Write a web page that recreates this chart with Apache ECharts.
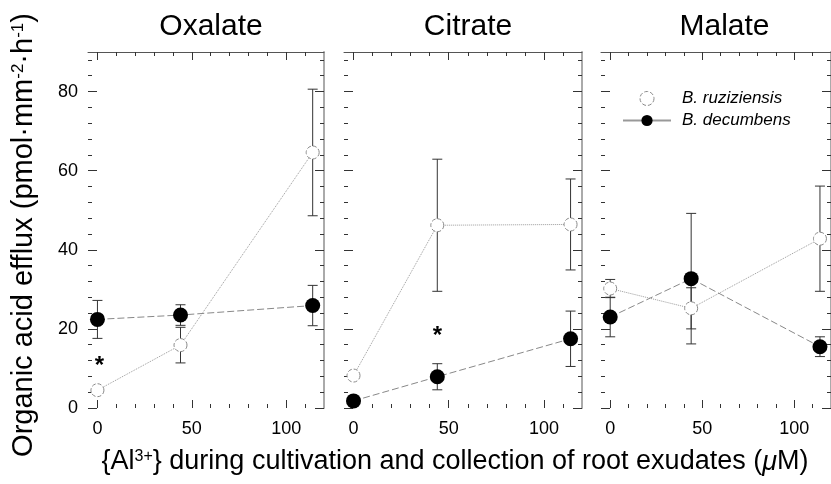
<!DOCTYPE html>
<html>
<head>
<meta charset="utf-8">
<script src="https://cdn.jsdelivr.net/npm/echarts@6/dist/echarts.min.js"></script>
<style>
html, body { margin: 0; background: #fff; }
#chart1 { width: 831px; height: 484px; }
</style>
</head>
<body>
<div id="chart1"></div>
<script>
var panels = ["Oxalate", "Citrate", "Malate"]
var doses = [0, 44, 114]

// B. ruziziensis (open circles)
var ruzOxalate = [4.5, 15.9, 64.6]
var ruzOxalateErr = [0, 4.5, 16]
var ruzCitrate = [8.2, 46.2, 46.4]
var ruzCitrateErr = [0, 16.7, 11.5]
var ruzMalate = [30.2, 25.2, 42.8]
var ruzMalateErr = [2.3, 5.2, 13.3]

// B. decumbens (filled circles)
var decOxalate = [22.4, 23.5, 25.9]
var decOxalateErr = [4.8, 2.6, 5.1]
var decCitrate = [1.8, 7.9, 17.5]
var decCitrateErr = [0, 3.3, 7]
var decMalate = [23.0, 32.7, 15.5]
var decMalateErr = [5, 16.5, 2.5]

// significance marks [panel, x, y]
var stars = [[0, 1, 12], [1, 44, 19.7]]

var xMajor = [0, 50, 100]
var xMinor = [10, 20, 30, 40, 60, 70, 80, 90, 110]
var yMajor = [0, 20, 40, 60, 80]
var yMinor = [4, 8, 12, 16, 24, 28, 32, 36, 44, 48, 52, 56, 64, 68, 72, 76, 84, 88]

var ruzData = [ruzOxalate, ruzCitrate, ruzMalate]
var ruzErr = [ruzOxalateErr, ruzCitrateErr, ruzMalateErr]
var decData = [decOxalate, decCitrate, decMalate]
var decErr = [decOxalateErr, decCitrateErr, decMalateErr]

var font = "Liberation Sans, Arial, sans-serif"
var gridLeft = [88, 344, 601]
var gridWidth = [236, 238, 237]

var chart = echarts.init(document.querySelector("#chart1"))

var grids = [], xAxes = [], yAxes = [], series = [], titles = []

function tickAxis(dim, gi, pos, ticks, len, labels, line) {
    return {
        type: "value",
        gridIndex: gi,
        position: pos,
        min: dim === "x" ? -5 : 0,
        max: dim === "x" ? 120 : 90,
        splitLine: { show: false },
        axisLine: line ? { show: true, onZero: false, lineStyle: line } : { show: false, onZero: false },
        axisTick: { show: true, inside: true, length: len, customValues: ticks, lineStyle: { color: "#333", width: 1 } },
        axisLabel: labels ? { show: true, customValues: labels, color: "#000", fontSize: 18, fontFamily: font, margin: dim === "x" ? 12 : 10 } : { show: false }
    }
}

panels.forEach(function (name, gi) {
    grids.push({ left: gridLeft[gi], width: gridWidth[gi], top: 52, height: 356 })
    titles.push({
        text: name, left: gridLeft[gi] + gridWidth[gi] / 2, top: 7, textAlign: "center",
        textStyle: { fontSize: 30, fontWeight: "normal", color: "#000", fontFamily: font }
    })
    xAxes.push(tickAxis("x", gi, "bottom", xMajor, 8, xMajor, null))
    xAxes.push(tickAxis("x", gi, "bottom", xMinor, 4, null, null))
    xAxes.push(tickAxis("x", gi, "top", xMajor, 8, null, { color: "#555", width: 1 }))
    xAxes.push(tickAxis("x", gi, "top", xMinor, 4, null, null))
    yAxes.push(tickAxis("y", gi, "left", yMajor, 9, gi === 0 ? yMajor : null, null))
    yAxes.push(tickAxis("y", gi, "left", yMinor, 4, null, null))
    yAxes.push(tickAxis("y", gi, "right", yMajor, 9, null, { color: "#aaa", width: 2 }))
    yAxes.push(tickAxis("y", gi, "right", yMinor, 4, null, null))

    var ai = gi * 4
    ;[[ruzData[gi], ruzErr[gi]], [decData[gi], decErr[gi]]].forEach(function (pair) {
        series.push({
            type: "custom",
            xAxisIndex: ai, yAxisIndex: ai, z: 1, silent: true,
            data: doses.map(function (d, k) { return [d, pair[0][k] - pair[1][k], pair[0][k] + pair[1][k]] }),
            renderItem: function (params, api) {
                var x = api.value(0)
                if (api.value(2) - api.value(1) <= 0) return null
                var lo = api.coord([x, api.value(1)])
                var hi = api.coord([x, api.value(2)])
                var st = { stroke: "#333", lineWidth: 1 }
                return {
                    type: "group",
                    children: [
                        { type: "line", shape: { x1: lo[0], y1: lo[1], x2: hi[0], y2: hi[1] }, style: st },
                        { type: "line", shape: { x1: lo[0] - 5, y1: lo[1], x2: lo[0] + 5, y2: lo[1] }, style: st },
                        { type: "line", shape: { x1: hi[0] - 5, y1: hi[1], x2: hi[0] + 5, y2: hi[1] }, style: st }
                    ]
                }
            }
        })
    })

    series.push({
        name: "B. ruziziensis",
        type: "line",
        xAxisIndex: ai, yAxisIndex: ai, z: 3,
        data: doses.map(function (d, k) { return [d, ruzData[gi][k]] }),
        symbol: "circle", symbolSize: 13,
        itemStyle: { color: "#fff", borderColor: "#888", borderWidth: 1, borderType: "dashed" },
        lineStyle: { color: "#999", width: 1, type: "dotted" }
    })
    series.push({
        name: "B. decumbens",
        type: "line",
        xAxisIndex: ai, yAxisIndex: ai, z: 3,
        data: doses.map(function (d, k) { return [d, decData[gi][k]] }),
        symbol: "circle", symbolSize: 15,
        itemStyle: { color: "#000" },
        lineStyle: { color: "#888", width: 1, type: [7, 3] }
    })
})

stars.forEach(function (s) {
    series.push({
        type: "custom",
        xAxisIndex: s[0] * 4, yAxisIndex: s[0] * 4, z: 4, silent: true,
        data: [[s[1], s[2]]],
        renderItem: function (params, api) {
            var p = api.coord([api.value(0), api.value(1)])
            return {
                type: "text", x: p[0], y: p[1] + 6,
                style: { text: "*", fontSize: 24, fontFamily: font, fontWeight: "bold", fill: "#000", align: "center", verticalAlign: "middle" }
            }
        }
    })
})

function richTitle(size) {
    return {
        s: { fontSize: Math.round(size * 0.6), lineHeight: Math.round(size * 0.6), fontFamily: font, fill: "#000", verticalAlign: "top", padding: [0, 0, Math.round(size * 0.75), 0] },
        i: { fontSize: size, lineHeight: size, fontFamily: font, fontStyle: "italic", fill: "#000" }
    }
}

var option = {
    animation: false,
    title: titles,
    grid: grids,
    xAxis: xAxes,
    yAxis: yAxes,
    legend: {
        orient: "vertical",
        left: 617, top: 85,
        itemWidth: 48, itemHeight: 14, itemGap: 5,
        textStyle: { fontSize: 17, fontStyle: "italic", color: "#000", fontFamily: font, padding: [0, 0, 0, 6] },
        data: [
            { name: "B. ruziziensis", icon: "circle", itemStyle: { color: "#fff", borderColor: "#888", borderWidth: 1, borderType: "dashed" } },
            { name: "B. decumbens", lineStyle: { type: "solid", color: "#999" } }
        ]
    },
    graphic: [
        {
            type: "text", x: 24, y: 235, rotation: Math.PI / 2,
            style: {
                text: "Organic acid efflux (pmol·mm{s|-2}·h{s|-1})",
                fontSize: 29, lineHeight: 29, fontFamily: font, fill: "#000",
                align: "center", verticalAlign: "middle",
                rich: richTitle(29)
            }
        },
        {
            type: "text", x: 455, y: 462,
            style: {
                text: "{Al{s|3+}} during cultivation and collection of root exudates ({i|μ}M)",
                fontSize: 27, lineHeight: 27, fontFamily: font, fill: "#000",
                align: "center", verticalAlign: "middle",
                rich: richTitle(27)
            }
        }
    ],
    series: series
}

chart.setOption(option)
</script>
</body>
</html>
